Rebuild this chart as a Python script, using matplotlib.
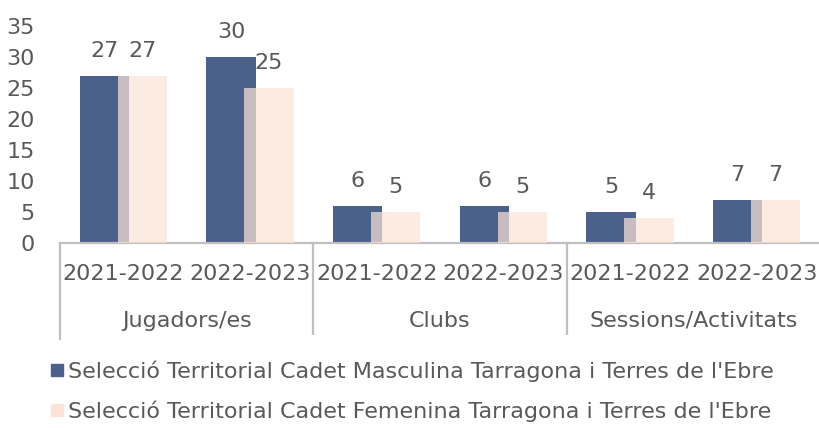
import matplotlib.pyplot as plt
import matplotlib.transforms as mtransforms
from matplotlib.lines import Line2D
import numpy as np

# === data ===
years = ["2021-2022", "2022-2023", "2021-2022", "2022-2023", "2021-2022", "2022-2023"]
groups = ["Jugadors/es", "Clubs", "Sessions/Activitats"]
masculina = [27, 30, 6, 6, 5, 7]
femenina = [27, 25, 5, 5, 4, 7]
series_names = [
    "Selecció Territorial Cadet Masculina Tarragona i Terres de l'Ebre",
    "Selecció Territorial Cadet Femenina Tarragona i Terres de l'Ebre",
]

# === style ===
plt.rcParams['font.family'] = ['DejaVu Sans']
FS = 16
TXT = "#595959"
AX = "#bfbfbf"
BLUE = "#4b608b"
PINK = "#fbe3d6"

fig = plt.figure(figsize=(8.19, 4.28), dpi=100)
ax = fig.add_axes([60 / 819, (428 - 243) / 428, 760 / 819, 217 / 428])

x = np.arange(len(years))
w = 0.39
off = 0.15
b1 = ax.bar(x - off, masculina, w, color=BLUE, zorder=2)
b2 = ax.bar(x + off, femenina, w, color=PINK, alpha=0.71, zorder=3)

# value labels above bars
for bars, vals in [(b1, masculina), (b2, femenina)]:
    for r, v in zip(bars, vals):
        ax.annotate(str(v), (r.get_x() + r.get_width() / 2, v),
                    xytext=(0, 18), textcoords="offset points",
                    ha="center", va="center", fontsize=FS, color=TXT)

ax.set_xlim(-0.5, 5.5)
ax.set_ylim(0, 35)
ax.set_yticks(range(0, 36, 5))
ax.tick_params(axis="y", length=0, pad=18, labelsize=FS, labelcolor=TXT)
ax.set_xticks([])
for s in ["left", "right", "top"]:
    ax.spines[s].set_visible(False)
ax.spines["bottom"].set_color(AX)
ax.spines["bottom"].set_linewidth(1.6)

# two level category axis
trans = mtransforms.blended_transform_factory(ax.transData, ax.transAxes)
for i, y in enumerate(years):
    ax.text(i, -31 / 217, y, transform=trans, ha="center", va="center",
            fontsize=FS, color=TXT)
for j, g in enumerate(groups):
    ax.text(2 * j + 0.5, -78 / 217, g, transform=trans, ha="center", va="center",
            fontsize=FS, color=TXT)
for k, sx in enumerate([-0.5, 1.5, 3.5]):
    bottom = -97 / 217 if k == 0 else -92 / 217
    ax.plot([sx, sx], [0, bottom], transform=trans, color=AX, lw=1.6,
            clip_on=False, solid_capstyle="butt")

# legend
handles = [Line2D([], [], marker="s", linestyle="none", markersize=9,
                  markerfacecolor=c, markeredgecolor=c) for c in [BLUE, PINK]]
fig.legend(handles, series_names, loc="upper left",
           bbox_to_anchor=(50 / 819, 1 - 360 / 428), frameon=False,
           fontsize=FS, labelcolor=TXT, handlelength=0.6, handletextpad=0.2,
           labelspacing=0.85, borderpad=0, borderaxespad=0)

fig.savefig("out.png", dpi=100)
